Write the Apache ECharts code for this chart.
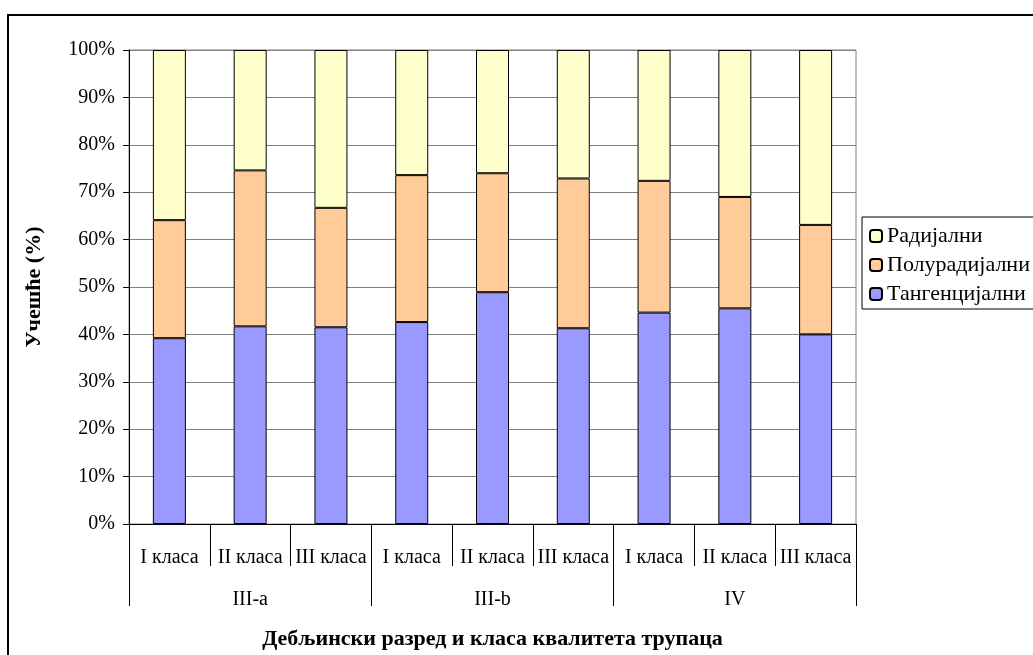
<!DOCTYPE html>
<html>
<head>
<meta charset="utf-8">
<script src="https://cdn.jsdelivr.net/npm/echarts@6/dist/echarts.min.js"></script>
<style>
  html, body { margin: 0; padding: 0; background: #fff; }
  #chart { width: 1033px; height: 655px; }
</style>
</head>
<body>
<div id="chart"></div>
<script>
// Quality classes within each diameter class
const classes = ['I класа', 'II класа', 'III класа', 'I класа', 'II класа', 'III класа', 'I класа', 'II класа', 'III класа'];
// Diameter classes (each spans three quality classes)
const groups = ['III-a', 'III-b', 'IV'];
// Share of each sawing pattern (%), stacked to 100%
const tangential = [39.2, 41.7, 41.5, 42.6, 48.9, 41.3, 44.6, 45.5, 40.0];
const semiRadial = [24.9, 32.9, 25.2, 31.0, 25.1, 31.6, 27.8, 23.5, 23.1];
const radial     = [35.9, 25.4, 33.3, 26.4, 26.0, 27.1, 27.6, 31.0, 36.9];
const seriesNames = ['Тангенцијални', 'Полурадијални', 'Радијални'];
const yTicks = [0, 10, 20, 30, 40, 50, 60, 70, 80, 90, 100];

const FONT = 'Liberation Serif';
const chart = echarts.init(document.getElementById('chart'), null, { renderer: 'canvas' });

function bar(name, data, color) {
  return {
    name, type: 'bar', stack: 'total', data, barWidth: 33, xAxisIndex: 0,
    itemStyle: { color, borderColor: '#000', borderWidth: 1 },
    emphasis: { disabled: true }
  };
}

chart.setOption({
  animation: false,
  backgroundColor: '#fff',
  textStyle: { fontFamily: FONT, color: '#000' },
  grid: { left: 129, top: 50, right: 177, bottom: 125, show: true, borderColor: '#808080', borderWidth: 1 },
  legend: {
    orient: 'vertical', left: 862, top: 217,
    data: [seriesNames[2], seriesNames[1], seriesNames[0]],
    itemWidth: 12, itemHeight: 12, itemGap: 7,
    padding: [8, 6, 4, 7],
    borderColor: '#000', borderWidth: 1,
    textStyle: { fontFamily: FONT, fontSize: 22, lineHeight: 22, color: '#000', padding: [0, 0, 0, 0] },
    selectedMode: false
  },
  xAxis: [
    {
      type: 'category', data: classes, position: 'bottom',
      axisLine: { lineStyle: { color: '#000', width: 1 } },
      axisTick: { show: true, interval: 0, length: 42, lineStyle: { color: '#000' } },
      axisLabel: { interval: 0, margin: 24, fontSize: 20, fontFamily: FONT, color: '#000' }
    },
    {
      type: 'category', data: groups, position: 'bottom',
      axisLine: { show: false },
      axisTick: { show: true, interval: 0, length: 82, lineStyle: { color: '#000' } },
      axisLabel: { interval: 0, margin: 66, fontSize: 20, fontFamily: FONT, color: '#000' },
      name: 'Дебљински разред и класа квалитета трупаца',
      nameLocation: 'middle', nameGap: 104,
      nameTextStyle: { fontFamily: FONT, fontSize: 22, fontWeight: 'bold', color: '#000' }
    }
  ],
  yAxis: {
    type: 'value', min: 0, max: 100, interval: 10,
    name: 'Учешће (%)', nameLocation: 'middle', nameGap: 84,
    nameTextStyle: { fontFamily: FONT, fontSize: 22, fontWeight: 'bold', color: '#000' },
    axisLine: { show: true, lineStyle: { color: '#000' } },
    axisTick: { show: true, length: 6, lineStyle: { color: '#000' } },
    splitLine: { lineStyle: { color: '#808080', width: 1 } },
    axisLabel: { margin: 14, fontSize: 20, fontFamily: FONT, color: '#000',
      formatter: v => yTicks.includes(v) ? v + '%' : '' }
  },
  graphic: [{
    type: 'rect', shape: { x: 8, y: 15, width: 1100, height: 700 },
    style: { fill: 'none', stroke: '#000', lineWidth: 2 }, silent: true
  }],
  series: [
    bar(seriesNames[0], tangential, '#9999FF'),
    bar(seriesNames[1], semiRadial, '#FFCC99'),
    bar(seriesNames[2], radial, '#FFFFCC')
  ]
});
</script>
</body>
</html>
